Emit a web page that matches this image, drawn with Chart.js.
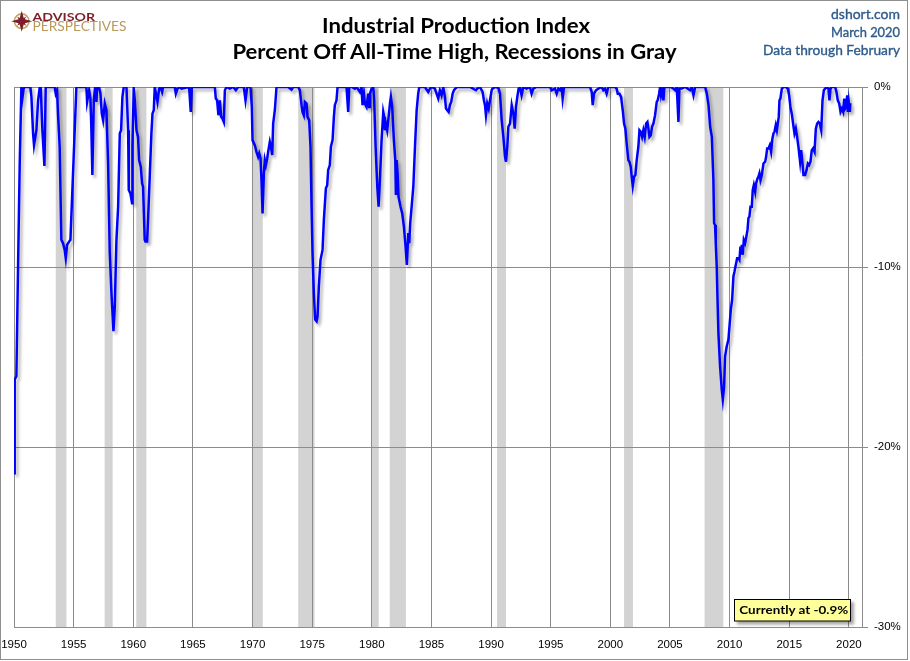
<!DOCTYPE html>
<html>
<head>
<meta charset="utf-8">
<title>Industrial Production Index - Percent Off All-Time High</title>
<script src="https://cdn.jsdelivr.net/npm/chart.js@4.4.1/dist/chart.umd.min.js"></script>
<style>
  html, body { margin: 0; padding: 0; background: #ffffff; }
  #wrap { position: relative; width: 910px; height: 661px; overflow: hidden; background: #ffffff; }
  #c { position: absolute; left: 0; top: 0; }
  #ov { position: absolute; left: 0; top: 0; pointer-events: none; }
</style>
</head>
<body>
<div id="wrap">
  <canvas id="c" width="910" height="661"></canvas>
  <svg id="ov" width="910" height="661" xmlns="http://www.w3.org/2000/svg">
    <defs>
      <filter id="boxShadow" x="-10%" y="-30%" width="130%" height="180%">
        <feDropShadow dx="3" dy="3" stdDeviation="1.6" flood-color="#000" flood-opacity="0.35"/>
      </filter>
    </defs>
    <rect x="0.5" y="0.5" width="907" height="659" fill="none" stroke="#8e8e8e" stroke-width="1"/>
    <g transform="translate(21.7,21.2)">
      <circle r="7.3" fill="none" stroke="#c0a46a" stroke-width="1.6"/>
      <polygon points="0,-10.5 2.3,-2.3 10.5,0 2.3,2.3 0,10.5 -2.3,2.3 -10.5,0 -2.3,-2.3" fill="#7d1f2a"/>
      <polygon transform="rotate(45) scale(0.62)" points="0,-10.5 2.3,-2.3 10.5,0 2.3,2.3 0,10.5 -2.3,2.3 -10.5,0 -2.3,-2.3" fill="#7d1f2a"/>
    </g>
    <text x="32.5" y="20.8" font-family="Lato" font-weight="bold" font-size="12" fill="#7d1f2a" textLength="62.5" lengthAdjust="spacingAndGlyphs">ADVISOR</text>
    <text x="32.5" y="31" font-family="Lato" font-size="12.6" fill="#b8995a" textLength="94" lengthAdjust="spacingAndGlyphs">PERSPECTIVES</text>
    <text x="456" y="33" text-anchor="middle" font-family="Lato" font-weight="bold" font-size="20.5" fill="#000" textLength="268" lengthAdjust="spacingAndGlyphs">Industrial Production Index</text>
    <text x="454.5" y="58.7" text-anchor="middle" font-family="Lato" font-weight="bold" font-size="20.5" fill="#000" textLength="444" lengthAdjust="spacingAndGlyphs">Percent Off All-Time High, Recessions in Gray</text>
    <g font-family="Lato" font-size="13" fill="#2f5b8c" stroke="#2f5b8c" stroke-width="0.35" text-anchor="end">
      <text x="900" y="19.2" textLength="69" lengthAdjust="spacingAndGlyphs">dshort.com</text>
      <text x="900" y="37.3" textLength="69" lengthAdjust="spacingAndGlyphs">March 2020</text>
      <text x="900" y="55" textLength="137" lengthAdjust="spacingAndGlyphs">Data through February</text>
    </g>
    <rect x="734.5" y="599.5" width="116" height="21.5" fill="#ffff99" stroke="#000" stroke-width="1" filter="url(#boxShadow)"/>
    <text x="739.3" y="614.4" font-family="Lato" font-weight="bold" font-size="12" fill="#000" textLength="109" lengthAdjust="spacingAndGlyphs">Currently at -0.9%</text>
  </svg>
</div>
<script>
// ---- Data ----
// Decimal-year dates of the plotted points
const dates = [
  1950.00,1950.06,1950.20,1950.34,1950.48,1950.62,1950.70,1950.81,1950.90,1951.37,1951.46,1951.60,1951.68,1951.79,1951.88,1952.02,1952.16,1952.24,1952.38,1952.55,1952.66,1953.41,1953.50,1953.61,1953.69,1953.83,1953.97,1954.11,1954.25,1954.34,1954.45,1954.62,1954.73,1954.84,1954.95,1955.09,1955.23,1956.07,1956.13,1956.30,1956.41,1956.49,1956.57,1956.69,1956.80,1956.91,1956.97,1957.13,1957.25,1957.36,1957.47,1957.61,1957.75,1957.89,1958.03,1958.17,1958.34,1958.45,1958.59,1958.73,1958.87,1958.98,1959.09,1959.20,1959.43,1959.57,1959.62,1959.76,1959.90,
  1959.93,1960.04,1960.13,1960.27,1960.40,1960.49,1960.63,1960.74,1960.82,1960.96,1961.02,1961.16,1961.24,1961.38,1961.52,1961.61,1961.72,1961.80,1962.03,1962.17,1962.28,1962.42,1962.50,1963.48,1963.57,1963.71,1963.90,1964.04,1964.68,1964.82,1964.91,1966.84,1966.92,1967.03,1967.14,1967.26,1967.37,1967.48,1967.59,1967.68,1967.82,1968.10,1968.38,1968.60,1968.79,1969.27,1969.41,1969.55,1969.83,1969.94,
  1970.00,1970.19,1970.33,1970.47,1970.56,1970.67,1970.75,1970.84,1970.95,1971.03,1971.12,1971.23,1971.31,1971.45,1971.54,1971.65,1971.73,1971.87,1972.01,1972.99,1973.27,1973.41,1973.83,1973.97,1974.11,1974.19,1974.30,1974.39,1974.53,1974.61,1974.75,1974.86,1974.95,1975.03,1975.14,1975.25,1975.37,1975.45,1975.56,1975.70,1975.87,1975.98,1976.15,1976.26,1976.34,1976.48,1976.57,1976.71,1976.82,1976.90,1977.04,1977.13,1977.88,1978.02,1978.11,1978.30,1978.58,1978.72,1979.00,1979.14,1979.22,1979.34,1979.42,1979.56,1979.70,1979.78,
  1979.84,1979.98,1980.12,1980.20,1980.32,1980.46,1980.57,1980.68,1980.82,1980.96,1981.04,1981.10,1981.18,1981.29,1981.38,1981.52,1981.60,1981.71,1981.85,1981.97,1982.02,1982.08,1982.16,1982.24,1982.41,1982.55,1982.69,1982.83,1982.94,1983.06,1983.14,1983.22,1983.34,1983.48,1983.62,1983.76,1983.89,1983.98,1984.45,1984.73,1984.87,1985.01,1985.29,1985.43,1985.57,1985.71,1985.85,1985.99,1986.13,1986.22,1986.33,1986.44,1986.55,1986.66,1986.78,1986.89,1987.00,1987.17,1988.23,1988.73,1988.84,1989.07,1989.29,1989.40,1989.49,1989.57,1989.68,1989.80,1989.91,1990.05,
  1990.13,1990.33,1990.61,1990.75,1990.89,1991.03,1991.17,1991.25,1991.36,1991.45,1991.59,1991.73,1991.87,1991.98,1992.09,1992.20,1992.31,1992.42,1992.56,1992.70,1992.98,1993.26,1993.40,1993.54,1993.82,1994.94,1995.08,1995.36,1995.50,1995.64,1995.78,1995.92,1996.00,1996.12,1996.62,1998.30,1998.44,1998.52,1998.63,1998.80,1998.99,1999.27,1999.41,1999.55,1999.69,1999.83,2000.39,
  2000.53,2000.62,2000.76,2000.90,2001.04,2001.15,2001.26,2001.37,2001.51,2001.60,2001.71,2001.79,2001.88,2001.99,2002.10,2002.21,2002.35,2002.44,2002.55,2002.66,2002.77,2002.88,2003.00,2003.11,2003.19,2003.28,2003.39,2003.50,2003.61,2003.75,2003.89,2003.97,2004.09,2004.17,2004.25,2004.37,2004.45,2004.53,2005.07,2005.29,2005.43,2005.57,2005.71,2005.79,2005.99,2006.27,2006.69,2006.83,2006.97,2007.11,2007.95,2008.09,2008.23,2008.37,2008.51,2008.64,2008.70,2008.78,2008.84,2008.92,2008.98,2009.06,2009.20,2009.34,2009.43,2009.54,2009.62,2009.76,2009.90,2009.99,2010.10,2010.21,
  2010.32,2010.41,2010.52,2010.63,2010.74,2010.82,2010.91,2010.96,2011.02,2011.10,2011.19,2011.30,2011.38,2011.50,2011.58,2011.66,2011.75,2011.86,2011.94,2012.03,2012.14,2012.22,2012.34,2012.42,2012.50,2012.59,2012.70,2012.84,2012.98,2013.06,2013.15,2013.26,2013.37,2013.48,2013.59,2013.68,2013.76,2013.87,2013.96,2014.04,2014.12,2014.18,2014.26,2014.38,2014.52,2014.71,2014.88,2014.99,2015.10,2015.21,2015.36,2015.44,2015.55,2015.66,2015.77,2015.91,2016.00,2016.11,2016.19,2016.33,2016.45,2016.56,2016.67,2016.78,2016.89,2017.00,2017.12,2017.23,2017.34,2017.45,2017.56,2017.68,2017.79,2017.90,2018.01,2018.15,2018.29,2018.37,2018.46,2018.57,2018.85,2018.96,2019.07,2019.19,2019.30,2019.41,2019.52,2019.61,2019.69,2019.77,2019.86,2019.91,2019.99,2020.08,2020.12
];
// Percent off all-time high at each date
const pctOffHigh = [
  -21.46,-16.25,-16.07,-9.97,-4.25,0,-0.64,-0.09,0,0,-0.55,-2.58,-3.23,-2.77,-2.40,-0.74,0,0,-2.40,-4.39,0,0,-0.37,-0.18,-1.48,-3.32,-8.49,-8.68,-9.05,-9.51,-8.77,-8.59,-8.49,-6.65,-4.80,-2.40,0,0,-0.83,-0.18,-0.64,-2.40,-4.89,-0.74,0,-0.83,0,0,-0.37,-1.48,-1.85,-0.92,-1.29,-4.25,-9.23,-11.45,-13.57,-12.19,-8.49,-6.65,-2.58,-2.40,-0.55,0,0,-2.40,-5.72,-5.91,-6.46,
  -3.32,0,-0.74,-2.40,-2.77,-4.06,-4.43,-5.35,-5.54,-8.49,-8.59,-8.59,-7.38,-4.98,-2.58,-1.48,-1.29,0,-0.83,-0.09,0,-0.28,0,0,-0.37,-0.09,0,-0.09,0,-1.38,0,0,-0.64,-0.74,-1.57,-0.74,-1.66,-1.75,-1.94,-0.18,0,-0.09,0,-0.18,0,0,-0.74,0,0,-1.11,
  -2.95,-3.23,-3.60,-3.88,-3.69,-3.97,-5.17,-7.02,-4.80,-4.06,-4.34,-3.97,-3.60,-3.05,-3.32,-3.78,-2.03,-1.29,0,0,-0.15,0,0,-0.18,-1.01,-1.38,-1.57,-0.83,-0.92,-1.66,-1.85,-3.32,-6.65,-9.23,-11.45,-12.92,-13.02,-12.74,-11.08,-9.60,-9.05,-7.38,-5.63,-5.45,-4.62,-4.34,-3.32,-2.95,-1.66,-1.01,-0.74,0,0,-1.38,0,0,-0.09,0,-0.28,0,-1.01,-0.37,-0.92,-1.11,-0.37,-1.11,
  -0.37,-0.09,0,-0.74,-3.32,-5.54,-6.65,-5.17,-2.95,-1.38,-1.66,-2.40,-2.03,-2.40,-1.85,-0.92,-0.55,-1.11,-2.95,-4.06,-6.00,-4.06,-4.80,-6.09,-6.65,-7.02,-7.75,-8.86,-9.88,-8.12,-8.68,-7.57,-6.65,-5.54,-3.32,-1.29,-0.37,0,0,-0.28,-0.09,0,-0.09,-0.37,-0.64,-0.18,-0.46,0,-0.55,-1.20,-1.29,-1.38,-1.01,-0.83,-0.37,-0.18,-0.09,0,0,-0.18,-0.09,0,-0.28,-0.74,-1.01,-1.57,-0.92,-1.20,-0.74,-0.18,
  -0.09,0,-0.04,-0.37,-1.85,-2.77,-3.88,-4.15,-3.32,-2.21,-2.03,-1.01,-1.48,-2.31,-1.11,-0.55,-0.09,0,-0.46,0,-0.09,0,-0.37,-0.09,0,0,-0.18,-0.09,-0.37,-0.09,-0.18,0,-0.64,0,0,0,-0.28,-1.01,-0.37,-0.18,-0.09,0,-0.18,-0.09,-0.37,0,0,
  -0.09,-0.37,-0.37,-0.55,-1.29,-2.03,-2.31,-3.14,-4.06,-4.15,-4.43,-4.98,-5.50,-4.98,-4.89,-4.06,-3.32,-2.40,-2.49,-2.77,-2.40,-2.77,-2.03,-1.94,-2.31,-2.77,-2.68,-2.21,-2.03,-1.57,-0.83,-0.74,-0.37,0,-0.46,-0.09,-0.74,0,0,-0.09,-0.18,0,-1.94,-0.09,-0.09,0,-0.18,0,-0.46,0,0,-0.37,-1.01,-2.21,-2.77,-5.17,-7.57,-7.66,-8.68,-9.97,-11.63,-13.66,-15.51,-16.80,-17.36,-16.62,-14.96,-14.40,-14.03,-13.29,-12.37,-11.82,
  -10.52,-10.25,-9.88,-9.51,-9.51,-9.60,-8.86,-9.23,-8.77,-9.32,-8.49,-8.68,-8.40,-7.94,-7.29,-7.20,-6.65,-6.65,-5.72,-5.45,-5.82,-5.35,-5.08,-4.98,-4.80,-5.17,-4.89,-4.25,-4.15,-3.88,-3.41,-3.41,-3.23,-3.60,-2.86,-2.58,-2.49,-2.12,-2.40,-2.03,-1.66,-0.74,-0.64,-0.09,0,0,-0.09,-0.46,-1.11,-1.48,-2.21,-2.58,-2.31,-2.77,-3.32,-4.15,-3.51,-4.25,-4.89,-4.89,-4.62,-4.25,-4.34,-4.15,-3.51,-3.41,-3.60,-2.31,-2.03,-1.94,-2.03,-2.40,-0.74,-0.18,-0.09,0,-0.09,-0.74,-0.09,0,0,-0.28,-0.74,-0.92,-1.38,-1.20,-1.38,-0.64,-1.20,-1.11,-0.46,-1.38,-0.83,-1.38,-0.90
];
// NBER recessions (decimal years)
const recessionStart = [1953.50, 1957.60, 1960.25, 1969.95, 1973.83, 1980.02, 1981.50, 1990.50, 2001.15, 2007.90];
const recessionEnd   = [1954.40, 1958.27, 1961.10, 1970.86, 1975.20, 1980.58, 1982.86, 1991.25, 2001.90, 2009.47];
// Axis ticks
const xTickYears  = [1950, 1955, 1960, 1965, 1970, 1975, 1980, 1985, 1990, 1995, 2000, 2005, 2010, 2015, 2020];
const yTickValues = [0, -10, -20, -30];
const yTickLabels = ['0%', '-10%', '-20%', '-30%'];

if (dates.length !== pctOffHigh.length) console.error('length mismatch', dates.length, pctOffHigh.length);

const recessionPlugin = {
  id: 'recessionBands',
  beforeDraw(chart) {
    const { ctx, chartArea: a, scales: { x } } = chart;
    ctx.save();
    ctx.fillStyle = '#d3d3d3';
    recessionStart.forEach((s, i) => {
      const x0 = x.getPixelForValue(s);
      const x1 = x.getPixelForValue(recessionEnd[i]);
      ctx.fillRect(x0, a.top, x1 - x0, a.bottom - a.top);
    });
    ctx.restore();
  }
};

const shadowPlugin = {
  id: 'lineShadow',
  beforeDatasetsDraw(chart) {
    const c = chart.ctx;
    c.save();
    c.shadowColor = 'rgba(0,0,0,0.30)';
    c.shadowBlur = 3;
    c.shadowOffsetX = 2.5;
    c.shadowOffsetY = 3;
  },
  afterDatasetsDraw(chart) {
    chart.ctx.restore();
  }
};

const gridColor = '#8c8c8c';
const tickFont = { family: 'Liberation Sans', size: 11.5 };

new Chart(document.getElementById('c'), {
  type: 'line',
  data: {
    datasets: [{
      label: 'Percent off all-time high',
      data: dates.map((d, i) => ({ x: d, y: pctOffHigh[i] })),
      borderColor: '#0000ff',
      borderWidth: 2.5,
      pointRadius: 0,
      pointHoverRadius: 0,
      tension: 0,
      fill: false
    }]
  },
  options: {
    responsive: false,
    animation: false,
    layout: { padding: { left: 14, top: 87, right: 8, bottom: 6 } },
    plugins: { legend: { display: false }, tooltip: { enabled: false }, title: { display: false } },
    scales: {
      x: {
        type: 'linear',
        min: 1950,
        max: 2021.1,
        afterBuildTicks: s => { s.ticks = xTickYears.map(v => ({ value: v })); },
        afterFit: s => { s.height = 28; s.paddingLeft = 0; s.paddingRight = 0; },
        ticks: {
          autoSkip: false, maxRotation: 0, minRotation: 0, padding: 11,
          color: '#000', font: tickFont,
          callback: v => String(v)
        },
        grid: { color: gridColor, lineWidth: 1, drawTicks: false },
        border: { color: gridColor, width: 1 }
      },
      y: {
        type: 'linear',
        position: 'right',
        min: -30,
        max: 0,
        afterBuildTicks: s => { s.ticks = yTickValues.map(v => ({ value: v })); },
        afterFit: s => { s.width = 40; s.paddingTop = 0; s.paddingBottom = 0; },
        ticks: {
          padding: 6, color: '#000', font: tickFont,
          callback: v => yTickLabels[yTickValues.indexOf(v)]
        },
        grid: { color: gridColor, lineWidth: 1, drawTicks: true, tickLength: 6, tickColor: gridColor },
        border: { color: gridColor, width: 1 }
      }
    }
  },
  plugins: [recessionPlugin, shadowPlugin]
});
</script>
</body>
</html>
